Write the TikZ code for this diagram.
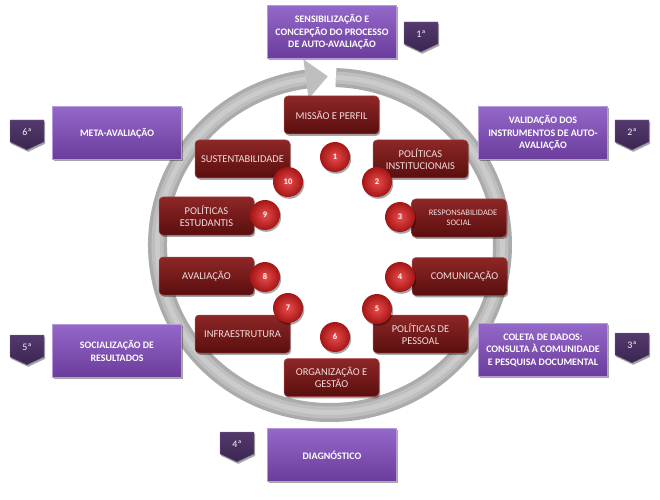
\documentclass[tikz,border=0pt]{standalone}
\usepackage{fontspec}
\setmainfont{Carlito}
\usetikzlibrary{shadows}
\definecolor{pTop}{HTML}{9468C9}
\definecolor{pBot}{HTML}{6A3C9C}
\definecolor{pEdge}{HTML}{B69BD8}
\definecolor{tTop}{HTML}{54396E}
\definecolor{tBot}{HTML}{3A2650}
\definecolor{rTop}{HTML}{8E2727}
\definecolor{rBot}{HTML}{5A0E0E}
\definecolor{rEdge}{HTML}{A84848}
\definecolor{rText}{HTML}{F3DDDD}
\definecolor{bIn}{HTML}{EA4C4C}
\definecolor{bOut}{HTML}{A51515}
\definecolor{ringA}{HTML}{ABABAB}
\definecolor{ringB}{HTML}{BEBEBE}
\definecolor{ringC}{HTML}{CBCBCB}
\begin{document}
\begin{tikzpicture}[x=1bp,y=-1bp,
  shad/.style={drop shadow={shadow xshift=1.2bp,shadow yshift=-1.8bp,opacity=0.35,fill=black}},
  purplebox/.style={rectangle,minimum width=129bp,minimum height=53bp,inner sep=2bp,
    top color=pTop,bottom color=pBot,draw=pEdge,line width=0.5bp,text=white,
    font=\fontsize{10}{12.5}\selectfont\bfseries,align=center,shad},
  tabshape/.style={top color=tTop,bottom color=tBot,draw=tTop!70!white,line width=0.4bp,shad},
  tabtext/.style={text=white!90!pEdge,font=\fontsize{10}{11}\selectfont,inner sep=0},
  redbox/.style={rectangle,rounded corners=4bp,minimum width=95bp,minimum height=38bp,inner sep=1bp,
    top color=rTop,bottom color=rBot,draw=rEdge,line width=0.5bp,text=rText,
    font=\fontsize{10.5}{12}\selectfont,align=center,shad},
  badge/.style={circle,minimum size=30bp,inner sep=0,inner color=bIn,outer color=bOut,
    text=white,font=\fontsize{8.5}{9}\selectfont\bfseries,shad},
  ringline/.style={line cap=butt}]
\useasboundingbox (0,0) rectangle (660,500);
% ring
\coordinate (rc) at (330,245);
\coordinate (rs) at (336.0,77.6);
\coordinate (re) at (306.0,79.1);
\coordinate (ra) at (303.4,59.3);
\coordinate (rb) at (308.6,98.9);
\coordinate (rt) at (327.8,76.3);
\draw[ringline,ringA,line width=19bp] (rs) arc[start angle=-88,end angle=262,x radius=172.5,y radius=167.5];
\draw[ringline,ringB,line width=12bp] (rs) arc[start angle=-88,end angle=262,x radius=172.5,y radius=167.5];
\draw[ringline,ringC,line width=5bp] (rs) arc[start angle=-88,end angle=262,x radius=172.5,y radius=167.5];
\fill[ringB] (ra) -- (rt) -- (rb) -- cycle;
% purple step boxes
\node[purplebox] (p1) at (332,32) {SENSIBILIZAÇÃO E\\CONCEPÇÃO DO PROCESSO\\DE AUTO-AVALIAÇÃO};
\node[purplebox] (p2) at (543,133) {VALIDAÇÃO DOS\\INSTRUMENTOS DE AUTO-\\AVALIAÇÃO};
\node[purplebox] (p3) at (543,350) {COLETA DE DADOS:\\CONSULTA À COMUNIDADE\\E PESQUISA DOCUMENTAL};
\node[purplebox] (p4) at (332,455) {DIAGNÓSTICO};
\node[purplebox] (p5) at (117,351) {SOCIALIZAÇÃO DE\\RESULTADOS};
\node[purplebox] (p6) at (117,133) {META-AVALIAÇÃO};
% tabs
\foreach \n/\x/\y in {1/421/22,2/632/120,3/632/333,4/237/432,5/27/335,6/27/120}{
  \path[tabshape] ({\x-17},\y) -- ({\x+17},\y) -- ({\x+17},{\y+22}) -- (\x,{\y+30}) -- ({\x-17},{\y+22}) -- cycle;
  \node[tabtext] (t\n) at (\x,{\y+12}) {\n ª};
}
% red dimension boxes
\node[redbox] (b1) at (331.5,115) {MISSÃO E PERFIL};
\node[redbox] (b2) at (420.5,159) {POLÍTICAS\\INSTITUCIONAIS};
\node[redbox,font=\fontsize{8.5}{10.5}\selectfont] (b3) at (459,218) {\hspace*{8bp}RESPONSABILIDADE\\SOCIAL};
\node[redbox] (b4) at (459.5,276.5) {\hspace*{10bp}COMUNICAÇÃO};
\node[redbox] (b5) at (420.5,334) {POLÍTICAS DE\\PESSOAL};
\node[redbox] (b6) at (331.5,377.5) {ORGANIZAÇÃO E\\GESTÃO};
\node[redbox] (b7) at (242.5,334) {INFRAESTRUTURA};
\node[redbox] (b8) at (206.5,276) {AVALIAÇÃO};
\node[redbox] (b9) at (206.5,216) {POLÍTICAS\\ESTUDANTIS};
\node[redbox] (b10) at (242.5,159) {SUSTENTABILIDADE};
% number badges
\node[badge] (n1) at (335,157) {1};
\node[badge] (n2) at (377,182) {2};
\node[badge] (n3) at (400,217) {3};
\node[badge] (n4) at (400,277) {4};
\node[badge] (n5) at (377,309) {5};
\node[badge] (n6) at (335,337) {6};
\node[badge] (n7) at (288,308) {7};
\node[badge] (n8) at (265,277) {8};
\node[badge] (n9) at (265,215) {9};
\node[badge] (n10) at (288,182) {10};
\end{tikzpicture}
\end{document}
